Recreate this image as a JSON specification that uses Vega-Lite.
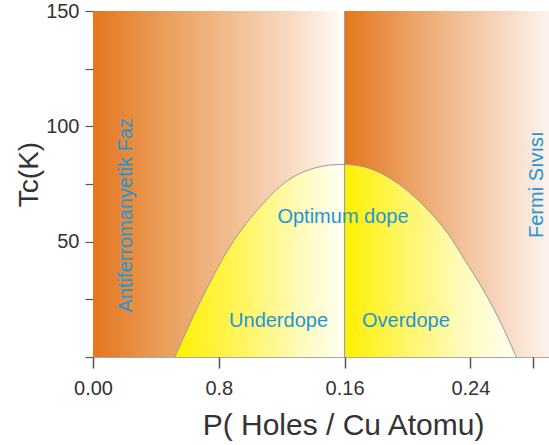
{
  "$schema": "https://vega.github.io/schema/vega-lite/v6.json",
  "width": 456,
  "height": 346,
  "autosize": {"type": "none"},
  "padding": {"left": 93, "top": 11, "right": 0, "bottom": 88},
  "background": "white",
  "config": {
    "view": {"stroke": "#a8a8a8", "strokeWidth": 1},
    "font": "Liberation Sans"
  },
  "datasets": {
    "regions": [
      {"p0": 0, "p1": 0.16, "t0": 0, "t1": 150, "region": "antiferro"},
      {"p0": 0.16, "p1": 0.29, "t0": 0, "t1": 150, "region": "fermi"}
    ],
    "dome": [
      {"p": 0.052, "tc": 0, "side": "under"},
      {"p": 0.0656, "tc": 20.3, "side": "under"},
      {"p": 0.0762, "tc": 34.7, "side": "under"},
      {"p": 0.0869, "tc": 47.7, "side": "under"},
      {"p": 0.0974, "tc": 57.9, "side": "under"},
      {"p": 0.1081, "tc": 66.5, "side": "under"},
      {"p": 0.1187, "tc": 73.8, "side": "under"},
      {"p": 0.1292, "tc": 78.8, "side": "under"},
      {"p": 0.1399, "tc": 81.7, "side": "under"},
      {"p": 0.1505, "tc": 83.2, "side": "under"},
      {"p": 0.16, "tc": 83.5, "side": "under"},
      {"p": 0.16, "tc": 83.5, "side": "over"},
      {"p": 0.1727, "tc": 82.4, "side": "over"},
      {"p": 0.1833, "tc": 79.6, "side": "over"},
      {"p": 0.194, "tc": 75.2, "side": "over"},
      {"p": 0.2045, "tc": 69.4, "side": "over"},
      {"p": 0.2151, "tc": 62.2, "side": "over"},
      {"p": 0.2257, "tc": 53.5, "side": "over"},
      {"p": 0.2363, "tc": 42.2, "side": "over"},
      {"p": 0.2469, "tc": 30.6, "side": "over"},
      {"p": 0.2575, "tc": 17.4, "side": "over"},
      {"p": 0.2692, "tc": 0, "side": "over"}
    ],
    "divider": [{"p": 0.16}],
    "phaseLabels": [
      {"p": 0.0207, "tc": 61.5, "label": "Antiferromanyetik Faz"},
      {"p": 0.2821, "tc": 74.7, "label": "Fermi Sıvısı"}
    ],
    "domeLabels": [
      {"p": 0.159, "tc": 60.7, "label": "Optimum dope"},
      {"p": 0.118, "tc": 15.6, "label": "Underdope"},
      {"p": 0.199, "tc": 15.6, "label": "Overdope"}
    ]
  },
  "layer": [
    {
      "data": {"name": "regions"},
      "transform": [{"filter": "datum.region == 'antiferro'"}],
      "mark": {
        "type": "rect",
        "fill": {
          "gradient": "linear", "x1": 0, "y1": 0, "x2": 1, "y2": 0,
          "stops": [
            {"offset": 0, "color": "#e4761e"},
            {"offset": 0.3, "color": "#eba05e"},
            {"offset": 0.55, "color": "#f1bd8f"},
            {"offset": 0.8, "color": "#f8dcc5"},
            {"offset": 1, "color": "#fffdfa"}
          ]
        }
      },
      "encoding": {
        "x": {
          "field": "p0", "type": "quantitative",
          "scale": {"domain": [0, 0.29], "nice": false, "zero": false},
          "axis": {
            "title": "P( Holes / Cu Atomu)",
            "values": [0, 0.08, 0.16, 0.24, 0.28],
            "labelExpr": "datum.value == 0 ? '0.00' : abs(datum.value - 0.08) < 1e-6 ? '0.8' : abs(datum.value - 0.16) < 1e-6 ? '0.16' : abs(datum.value - 0.24) < 1e-6 ? '0.24' : ''",
            "domain": false, "grid": false,
            "tickSize": 11, "tickColor": "#555555", "tickWidth": 1.5,
            "labelFontSize": 20, "labelColor": "#333333", "labelPadding": 10,
            "labelFlush": false, "labelOverlap": false, "labelFont": "Liberation Sans",
            "titleFontSize": 30, "titleColor": "#333333", "titleFontWeight": "normal",
            "titleFont": "Liberation Sans",
            "titleX": 250, "titleY": 68, "titleAlign": "center", "titleBaseline": "middle"
          }
        },
        "x2": {"field": "p1"},
        "y": {
          "field": "t0", "type": "quantitative",
          "scale": {"domain": [0, 150], "nice": false},
          "axis": {
            "title": "Tc(K)",
            "values": [0, 25, 50, 75, 100, 125, 150],
            "labelExpr": "datum.value > 0 && datum.value % 50 == 0 ? datum.label : ''",
            "domain": false, "grid": false,
            "tickSize": 8, "tickColor": "#555555", "tickWidth": 1.2,
            "labelFontSize": 20, "labelColor": "#333333", "labelPadding": 6,
            "labelOverlap": false, "labelFont": "Liberation Sans",
            "titleFontSize": 28, "titleColor": "#333333", "titleFontWeight": "normal",
            "titleFont": "Liberation Sans",
            "titleX": -64, "titleY": 163, "titleAlign": "center", "titleBaseline": "middle"
          }
        },
        "y2": {"field": "t1"}
      }
    },
    {
      "data": {"name": "regions"},
      "transform": [{"filter": "datum.region == 'fermi'"}],
      "mark": {
        "type": "rect",
        "fill": {
          "gradient": "linear", "x1": 0, "y1": 0, "x2": 1, "y2": 0,
          "stops": [
            {"offset": 0, "color": "#e4761c"},
            {"offset": 0.4, "color": "#eeac75"},
            {"offset": 0.7, "color": "#f5cfb2"},
            {"offset": 1, "color": "#fdf3ec"}
          ]
        }
      },
      "encoding": {
        "x": {"field": "p0", "type": "quantitative"},
        "x2": {"field": "p1"},
        "y": {"field": "t0", "type": "quantitative"},
        "y2": {"field": "t1"}
      }
    },
    {
      "data": {"name": "dome"},
      "transform": [{"filter": "datum.side == 'under'"}],
      "mark": {
        "type": "area", "interpolate": "monotone",
        "fill": {
          "gradient": "linear", "x1": 0, "y1": 0, "x2": 1, "y2": 0,
          "stops": [
            {"offset": 0, "color": "#fff000"},
            {"offset": 0.4, "color": "#fff560"},
            {"offset": 0.7, "color": "#fffab0"},
            {"offset": 1, "color": "#fffff5"}
          ]
        }
      },
      "encoding": {
        "x": {"field": "p", "type": "quantitative"},
        "y": {"field": "tc", "type": "quantitative"}
      }
    },
    {
      "data": {"name": "dome"},
      "transform": [{"filter": "datum.side == 'over'"}],
      "mark": {
        "type": "area", "interpolate": "monotone",
        "fill": {
          "gradient": "linear", "x1": 0, "y1": 0, "x2": 1, "y2": 0,
          "stops": [
            {"offset": 0, "color": "#fff000"},
            {"offset": 0.35, "color": "#fff566"},
            {"offset": 0.65, "color": "#fffab4"},
            {"offset": 1, "color": "#fffff2"}
          ]
        }
      },
      "encoding": {
        "x": {"field": "p", "type": "quantitative"},
        "y": {"field": "tc", "type": "quantitative"}
      }
    },
    {
      "data": {"name": "dome"},
      "mark": {"type": "line", "interpolate": "monotone", "color": "#9a9a9a", "strokeWidth": 1},
      "encoding": {
        "x": {"field": "p", "type": "quantitative"},
        "y": {"field": "tc", "type": "quantitative"},
        "detail": {"field": "side"}
      }
    },
    {
      "data": {"name": "divider"},
      "mark": {"type": "rule", "color": "#9a9a9a", "strokeWidth": 1},
      "encoding": {
        "x": {"field": "p", "type": "quantitative"}
      }
    },
    {
      "data": {"name": "phaseLabels"},
      "mark": {
        "type": "text", "angle": 270, "align": "center", "baseline": "middle",
        "fontSize": 20, "color": "#1e96d6", "font": "Liberation Sans"
      },
      "encoding": {
        "x": {"field": "p", "type": "quantitative"},
        "y": {"field": "tc", "type": "quantitative"},
        "text": {"field": "label"}
      }
    },
    {
      "data": {"name": "domeLabels"},
      "mark": {
        "type": "text", "align": "center", "baseline": "middle",
        "fontSize": 20, "color": "#1e96d6", "font": "Liberation Sans"
      },
      "encoding": {
        "x": {"field": "p", "type": "quantitative"},
        "y": {"field": "tc", "type": "quantitative"},
        "text": {"field": "label"}
      }
    }
  ]
}
